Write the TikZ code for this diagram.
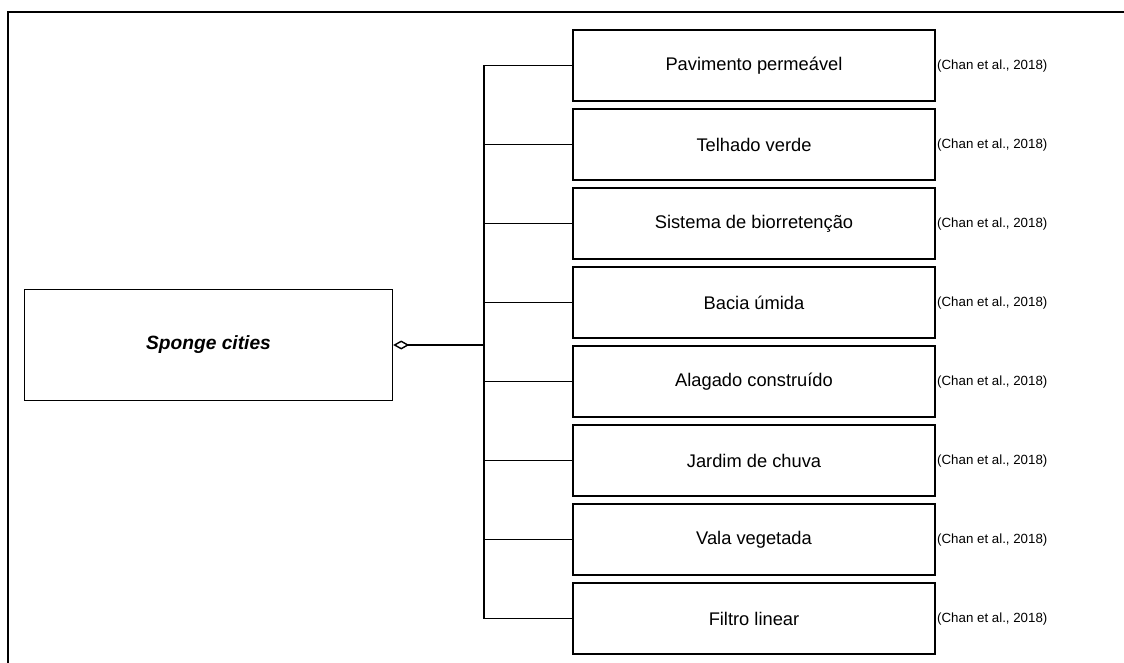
\documentclass[tikz,border=0pt]{standalone}
\usepackage{fontspec}
\setmainfont{Liberation Sans}
\usetikzlibrary{arrows.meta}
\begin{document}
\begin{tikzpicture}[x=1pt,y=-1pt,
  itembox/.style={draw=black, line width=1.4pt, minimum width=362pt, minimum height=71pt, inner sep=0pt, font=\fontsize{18.3}{20}\selectfont},
  citetext/.style={anchor=west, inner sep=0pt, font=\fontsize{13.3}{15}\selectfont},
  conn/.style={draw=black, line width=1.5pt}]
\useasboundingbox (0,0) rectangle (1124,663);
% outer frame
\coordinate (fbl) at (8,663);
\coordinate (ftl) at (8,12);
\coordinate (ftr) at (1124,12);
\draw[line width=2pt] (fbl) -- (ftl) -- (ftr);
% main box
\node[draw=black, line width=1.4pt, minimum width=368pt, minimum height=111pt, inner sep=0pt,
  font=\fontsize{19.2}{21}\selectfont\bfseries\itshape] (sponge) at (208.5,345) {Sponge cities};
% items
\foreach \i/\t in {1/Pavimento permeável,2/Telhado verde,3/Sistema de biorretenção,4/Bacia úmida,5/Alagado construído,6/Jardim de chuva,7/Vala vegetada,8/Filtro linear}{
  \node[itembox] (b\i) at (754,{65.5+79*(\i-1)}) {\t};
  \node[citetext] (c\i) at (937,{66.5+79*(\i-1)}) {(Chan et al., 2018)};
  \coordinate (j\i) at (484,{65.5+79*(\i-1)});
  \draw[conn] (j\i) -- (b\i.west);
}
\coordinate (jm) at (484,345);
\draw[conn] (j1) -- (j8);
\draw[conn, {Diamond[open,length=16pt,width=9pt,line width=1.4pt]}-] (sponge.east) -- (jm);
\end{tikzpicture}
\end{document}
